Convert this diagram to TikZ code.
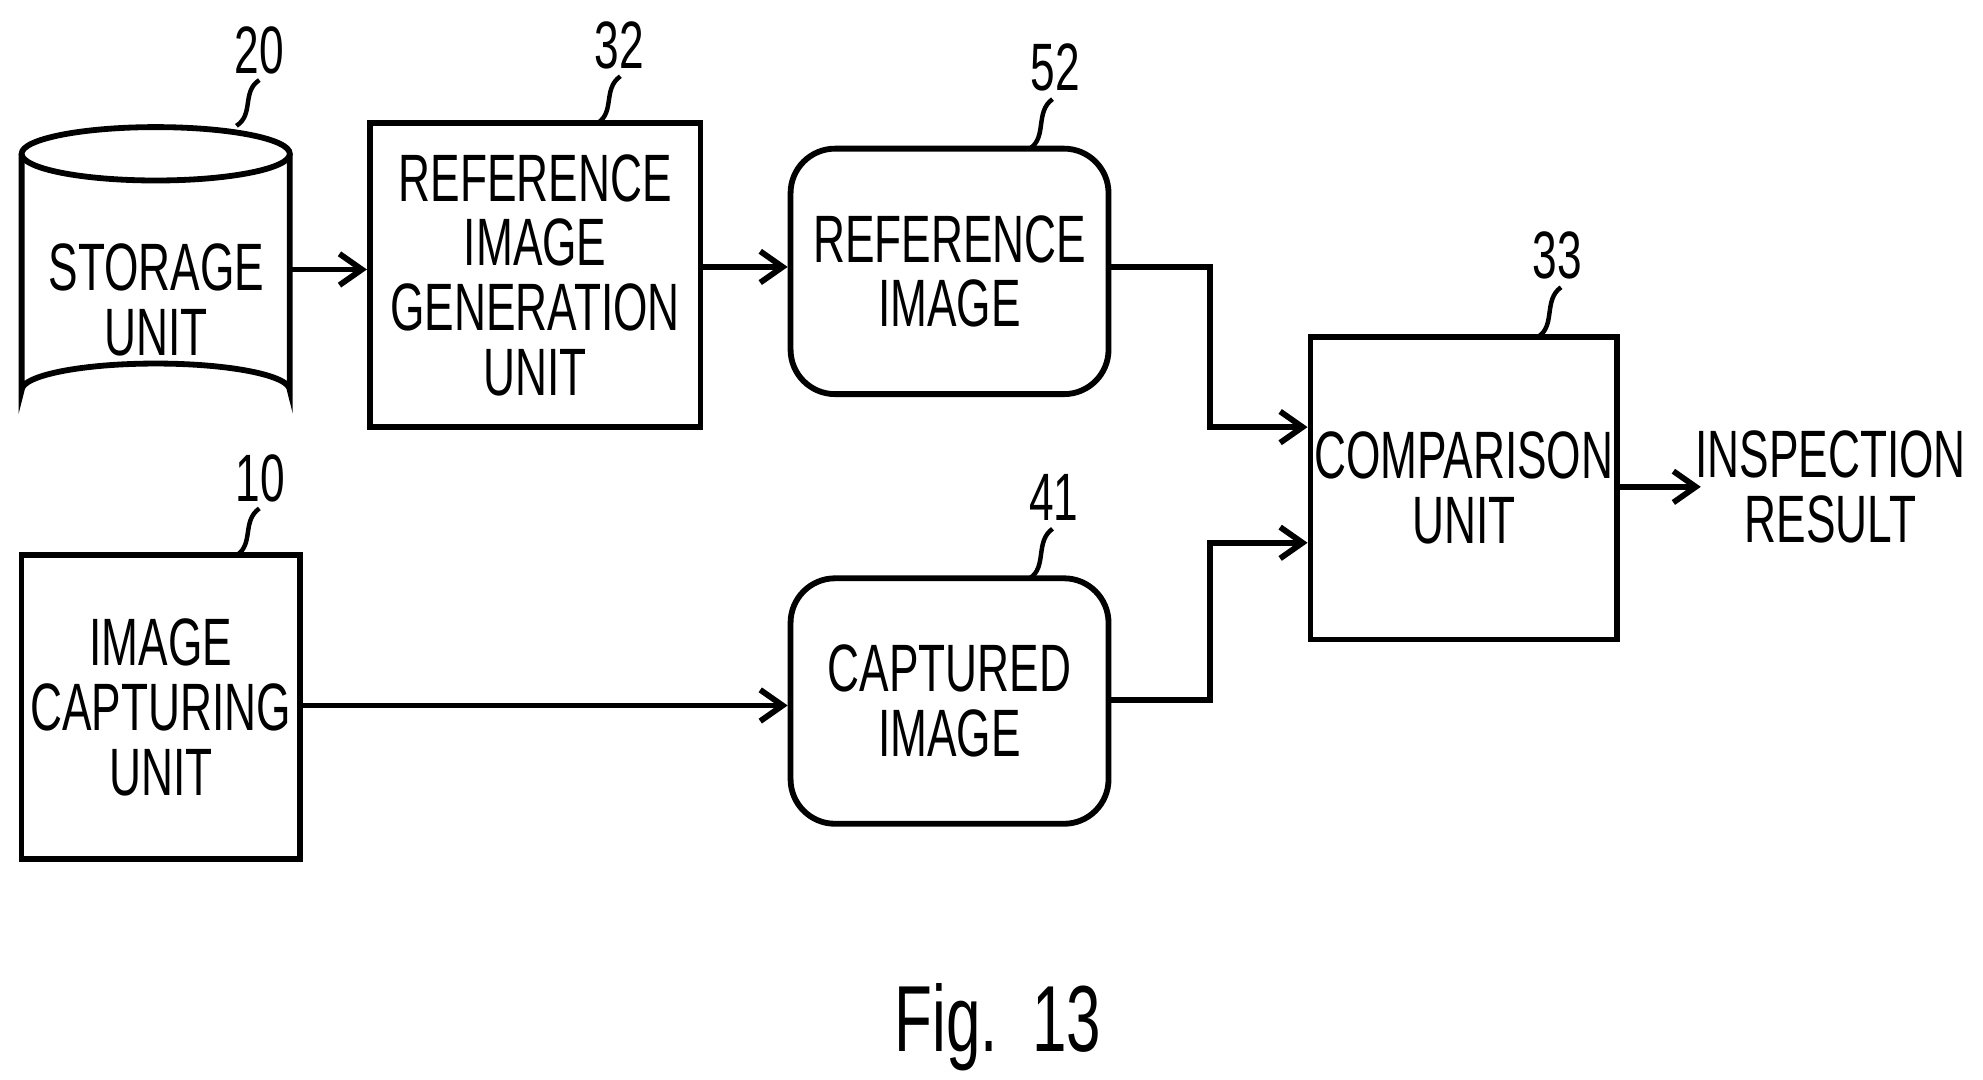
\documentclass[tikz,border=0pt]{standalone}
\usepackage{fontspec}
\setmainfont[FakeStretch=0.66]{Liberation Sans}
\usetikzlibrary{arrows.meta}
\begin{document}
\begin{tikzpicture}[x=0.01cm, y=-0.01cm, line width=1.3pt,
  blk/.style={draw, align=center, inner sep=0pt, font=\fontsize{15}{14.5}\selectfont},
  lbl/.style={font=\fontsize{15}{14.5}\selectfont},
  arr/.style={-{Straight Barb[length=5pt,width=7pt]}}]
\useasboundingbox (0,0) rectangle (1560,849);
% storage cylinder
\draw (17,121) -- (17,307) arc[start angle=180, end angle=360, x radius=105.5, y radius=21] -- (228,121);
\draw (122.5,121) ellipse[x radius=105.5, y radius=21];
\node[lbl, align=center] (store) at (123,236) {STORAGE\\UNIT};
\coordinate (storeE) at (228,212);
% boxes
\node[blk, minimum width=2.6cm, minimum height=2.39cm] (gen) at (421,216.5) {REFERENCE\\IMAGE\\GENERATION\\UNIT};
\node[blk, rounded corners=0.35cm, minimum width=2.5cm, minimum height=1.93cm] (refimg) at (747,213.5) {REFERENCE\\IMAGE};
\node[blk, minimum width=2.41cm, minimum height=2.38cm] (comp) at (1151.5,384) {COMPARISON\\UNIT};
\node[blk, minimum width=2.19cm, minimum height=2.39cm] (cap) at (126.5,556.5) {IMAGE\\CAPTURING\\UNIT};
\node[blk, rounded corners=0.35cm, minimum width=2.5cm, minimum height=1.93cm] (capimg) at (747,551.5) {CAPTURED\\IMAGE};
\node[lbl, align=center] (result) at (1440,383) {INSPECTION\\RESULT};
% reference numerals
\node[lbl] (n20) at (204,40) {20};
\node[lbl] (n32) at (487,36) {32};
\node[lbl] (n52) at (830,53) {52};
\node[lbl] (n33) at (1225,201) {33};
\node[lbl] (n10) at (205,376) {10};
\node[lbl] (n41) at (829,391) {41};
\draw[line width=1pt] (186,99) .. controls (200,90) and (190,72) .. (204,63);
\draw[line width=1pt] (470,97) .. controls (484,88) and (474,70) .. (488,60);
\draw[line width=1pt] (810,117) .. controls (824,108) and (814,88) .. (828,78);
\draw[line width=1pt] (1210,265) .. controls (1224,256) and (1214,236) .. (1228,226);
\draw[line width=1pt] (186,437) .. controls (200,428) and (190,410) .. (204,400);
\draw[line width=1pt] (810,455) .. controls (824,446) and (814,426) .. (828,416);
% connectors
\draw[arr] (storeE) -- (gen.west |- storeE);
\draw[arr] (gen.east |- 0,210) -- (refimg.west |- 0,210);
\draw[arr] (refimg.east |- 0,210) -| (952,336) -- (comp.west |- 0,336);
\draw[arr] (capimg.east |- 0,551) -| (952,427) -- (comp.west |- 0,427);
\draw[arr] (cap.east |- 0,555) -- (capimg.west |- 0,555);
\draw[arr] (comp.east |- 0,383) -- (1338,383);
\node[font=\fontsize{21}{21}\selectfont] (fig) at (785,808) {Fig.\ \ 13};
\end{tikzpicture}
\end{document}
